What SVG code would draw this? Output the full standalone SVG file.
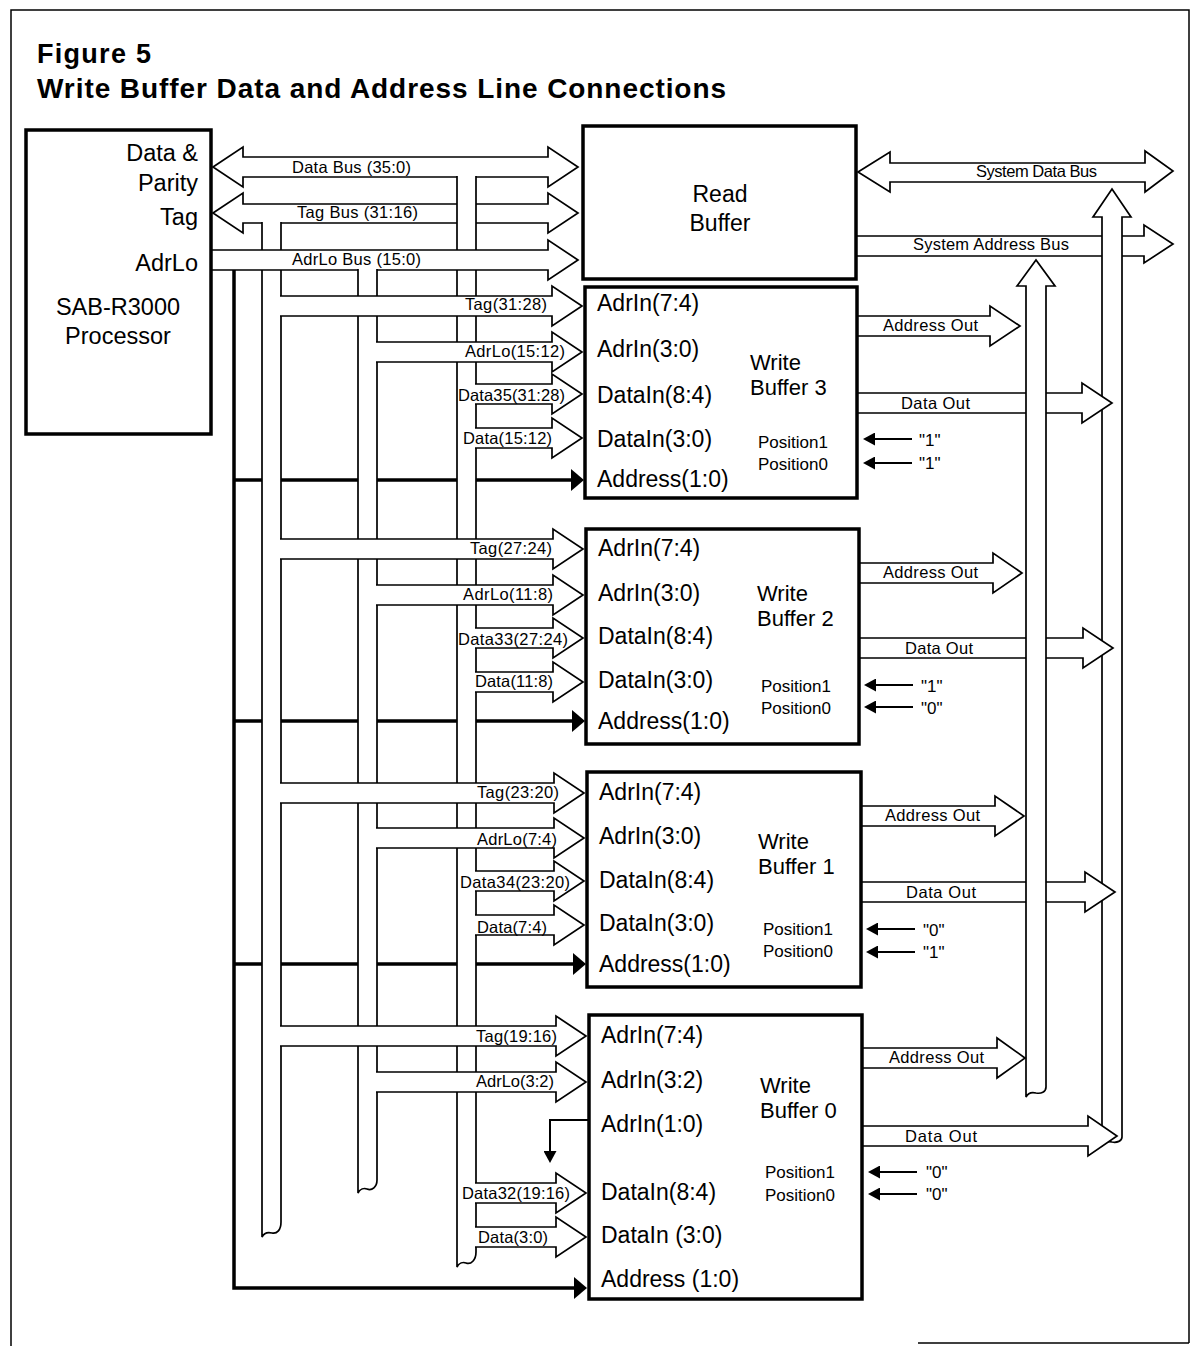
<svg xmlns="http://www.w3.org/2000/svg" width="1191" height="1346" viewBox="0 0 1191 1346">
<style>
.o{fill:#fff;stroke:#000;stroke-width:1.7;stroke-linejoin:miter}
.box{fill:#fff;stroke:#000;stroke-width:3.5}
.thick{fill:none;stroke:#000;stroke-width:3.5}
.thin{fill:none;stroke:#000;stroke-width:2}
.fr{fill:none;stroke:#000;stroke-width:1.5}
text{font-family:"Liberation Sans",Arial,Helvetica,sans-serif;fill:#000}
.lbl{font-size:16.5px}
.bt{font-size:23px}
.wt{font-size:22px}
.pt{font-size:23.5px}
.pos{font-size:17px}
.ttl{font-weight:bold}
</style>
<defs>
<marker id="big" markerUnits="userSpaceOnUse" viewBox="0 0 14 24" markerWidth="14" markerHeight="24" refX="0" refY="12" orient="auto"><path d="M0,1 L13,12 L0,23 Z" fill="#000"/></marker>
<marker id="small" markerUnits="userSpaceOnUse" viewBox="0 0 12 13" markerWidth="12" markerHeight="13" refX="0" refY="6.5" orient="auto"><path d="M0,0 L12,6.5 L0,13 Z" fill="#000"/></marker>
</defs>
<rect width="1191" height="1346" fill="#fff"/>
<g id="frame">
<path class="fr" d="M11,1346 V10 H1189 V1343 M918,1343 H1189"/>
</g>
<g id="title">
<text class="ttl" x="37" y="63" font-size="27" textLength="114">Figure 5</text>
<text class="ttl" x="37" y="98" font-size="28" textLength="689">Write Buffer Data and Address Line Connections</text>
</g>
<g id="connectors">
<path class="thick" d="M234,269 V1288 H574" marker-end="url(#big)"/>
<path class="thick" d="M234,480 H571" marker-end="url(#big)"/>
<path class="thick" d="M234,721 H572" marker-end="url(#big)"/>
<path class="thick" d="M234,964 H573" marker-end="url(#big)"/>
<path class="o" d="M213,167 L243,147 V157 H548 V147 L578,167 L548,187 V177 H243 V187 Z"/>
<path class="o" d="M213,213 L243,193 V204 H548 V193 L578,213 L548,233 V223 H243 V233 Z"/>
<path class="o" d="M262,222 V1237 C264,1233 268,1232 272,1233 C277,1234 281,1230 281,1222 V222"/>
<path class="o" d="M457,176 V1267 C459,1263 463,1262 466,1263 C471,1265 476,1260 476,1252 V176"/>
<path class="o" d="M211,250 H548 V240 L578,260 L548,280 V270 H211"/>
<path class="o" d="M358,269 V1193 C360,1189 364,1188 367,1189 C372,1191 377,1187 377,1180 V269"/>
<text class="lbl" x="292" y="173" textLength="119">Data Bus (35:0)</text>
<text class="lbl" x="297" y="218" textLength="121">Tag Bus (31:16)</text>
<text class="lbl" x="292" y="265" textLength="129">AdrLo Bus (15:0)</text>
<path class="o" d="M280,296 H552 V286 L582,306 L552,326 V316 H280"/>
<path class="o" d="M376,342 H552 V332 L582,352 L552,372 V362 H376"/>
<path class="o" d="M475,384 H552 V374 L582,394 L552,414 V404 H475"/>
<path class="o" d="M475,428 H552 V418 L582,438 L552,458 V448 H475"/>
<text class="lbl" x="465" y="310" textLength="82">Tag(31:28)</text>
<text class="lbl" x="465" y="357" textLength="100">AdrLo(15:12)</text>
<text class="lbl" x="458" y="401" textLength="107">Data35(31:28)</text>
<text class="lbl" x="463" y="444" textLength="89">Data(15:12)</text>
<path class="o" d="M280,539 H553 V529 L583,549 L553,569 V559 H280"/>
<path class="o" d="M376,585 H553 V575 L583,595 L553,615 V605 H376"/>
<path class="o" d="M475,628 H553 V618 L583,638 L553,658 V648 H475"/>
<path class="o" d="M475,672 H553 V662 L583,682 L553,702 V692 H475"/>
<text class="lbl" x="470" y="554" textLength="82">Tag(27:24)</text>
<text class="lbl" x="463" y="600" textLength="90">AdrLo(11:8)</text>
<text class="lbl" x="458" y="645" textLength="110">Data33(27:24)</text>
<text class="lbl" x="475" y="687" textLength="78">Data(11:8)</text>
<path class="o" d="M280,783 H554 V773 L584,793 L554,813 V803 H280"/>
<path class="o" d="M376,828 H554 V818 L584,838 L554,858 V848 H376"/>
<path class="o" d="M475,871 H554 V861 L584,881 L554,901 V891 H475"/>
<path class="o" d="M475,915 H554 V905 L584,925 L554,945 V935 H475"/>
<text class="lbl" x="477" y="798" textLength="82">Tag(23:20)</text>
<text class="lbl" x="477" y="845" textLength="80">AdrLo(7:4)</text>
<text class="lbl" x="460" y="888" textLength="110">Data34(23:20)</text>
<text class="lbl" x="477" y="933" textLength="70">Data(7:4)</text>
<path class="o" d="M280,1026 H556 V1016 L586,1036 L556,1056 V1046 H280"/>
<path class="o" d="M376,1072 H556 V1062 L586,1082 L556,1102 V1092 H376"/>
<path class="o" d="M475,1183 H556 V1173 L586,1193 L556,1213 V1203 H475"/>
<path class="o" d="M475,1227 H556 V1217 L586,1237 L556,1257 V1247 H475"/>
<text class="lbl" x="476" y="1042" textLength="81">Tag(19:16)</text>
<text class="lbl" x="476" y="1087" textLength="78">AdrLo(3:2)</text>
<text class="lbl" x="462" y="1199" textLength="108">Data32(19:16)</text>
<text class="lbl" x="478" y="1243" textLength="70">Data(3:0)</text>
<path class="thin" d="M589,1120 H550 V1151" marker-end="url(#small)"/>
<path class="o" d="M858,172 L890,152 V163 H1145 V151 L1173,171 L1145,192 V182 H890 V192 Z"/>
<path class="o" d="M856,236 H1144 V225 L1173,244 L1144,263 V256 H856"/>
<path class="o" d="M1102,1146 V217 H1093 L1112,189 L1131,217 H1122 V1137 C1122,1141 1117,1143 1112,1142 C1108,1141 1104,1142 1102,1146 Z"/>
<text class="lbl" x="976" y="177" textLength="121">System Data Bus</text>
<text class="lbl" x="913" y="250" textLength="156">System Address Bus</text>
<path class="o" d="M857,393 H1082 V383 L1112,403 L1082,423 V413 H857"/>
<path class="o" d="M859,638 H1083 V628 L1113,648 L1083,668 V658 H859"/>
<path class="o" d="M861,882 H1085 V872 L1115,892 L1085,912 V902 H861"/>
<path class="o" d="M862,1126 H1088 V1116 L1117,1136 L1088,1156 V1146 H862"/>
<path class="o" d="M1026,1097 V286 H1017 L1036,260 L1055,286 H1046 V1087 C1046,1092 1041,1094 1036,1093 C1032,1092 1028,1093 1026,1097 Z"/>
<text class="lbl" x="901" y="409" textLength="69">Data Out</text>
<text class="lbl" x="905" y="654" textLength="68">Data Out</text>
<text class="lbl" x="906" y="898" textLength="70">Data Out</text>
<text class="lbl" x="905" y="1142" textLength="72">Data Out</text>
<path class="o" d="M857,316 H990 V306 L1020,326 L990,346 V336 H857"/>
<path class="o" d="M859,563 H993 V553 L1022,573 L993,593 V583 H859"/>
<path class="o" d="M861,806 H995 V796 L1024,816 L995,836 V826 H861"/>
<path class="o" d="M862,1048 H997 V1038 L1025,1058 L997,1078 V1068 H862"/>
<text class="lbl" x="883" y="331" textLength="95">Address Out</text>
<text class="lbl" x="883" y="578" textLength="95">Address Out</text>
<text class="lbl" x="885" y="821" textLength="95">Address Out</text>
<text class="lbl" x="889" y="1063" textLength="95">Address Out</text>
<path class="thin" d="M912,439 H875" marker-end="url(#small)"/>
<path class="thin" d="M912,463 H875" marker-end="url(#small)"/>
<path class="thin" d="M913,685 H876" marker-end="url(#small)"/>
<path class="thin" d="M913,707 H876" marker-end="url(#small)"/>
<path class="thin" d="M915,929 H878" marker-end="url(#small)"/>
<path class="thin" d="M915,952 H878" marker-end="url(#small)"/>
<path class="thin" d="M917,1172 H880" marker-end="url(#small)"/>
<path class="thin" d="M917,1194 H880" marker-end="url(#small)"/>
<text class="pos" x="919" y="446">"1"</text>
<text class="pos" x="919" y="469">"1"</text>
<text class="pos" x="921" y="692">"1"</text>
<text class="pos" x="921" y="714">"0"</text>
<text class="pos" x="923" y="936">"0"</text>
<text class="pos" x="923" y="958">"1"</text>
<text class="pos" x="926" y="1178">"0"</text>
<text class="pos" x="926" y="1200">"0"</text>
</g>
<g id="processor">
<rect class="box" x="26" y="130" width="185" height="304"/>
<text class="pt" x="198" y="161" text-anchor="end">Data &amp;</text>
<text class="pt" x="198" y="191" text-anchor="end">Parity</text>
<text class="pt" x="198" y="225" text-anchor="end">Tag</text>
<text class="pt" x="198" y="271" text-anchor="end">AdrLo</text>
<text class="pt" x="118" y="315" text-anchor="middle">SAB-R3000</text>
<text class="pt" x="118" y="344" text-anchor="middle">Processor</text>
</g>
<g id="read-buffer">
<rect class="box" x="583" y="126" width="273" height="153"/>
<text class="bt" x="720" y="202" text-anchor="middle">Read</text>
<text class="bt" x="720" y="231" text-anchor="middle">Buffer</text>
</g>
<g id="wb3">
<rect class="box" x="585" y="287" width="272" height="211"/>
<text class="bt" x="597" y="311">AdrIn(7:4)</text>
<text class="bt" x="597" y="357">AdrIn(3:0)</text>
<text class="bt" x="597" y="403">DataIn(8:4)</text>
<text class="bt" x="597" y="447">DataIn(3:0)</text>
<text class="bt" x="597" y="487">Address(1:0)</text>
<text class="wt" x="750" y="370">Write</text>
<text class="wt" x="750" y="395">Buffer 3</text>
<text class="pos" x="758" y="448">Position1</text>
<text class="pos" x="758" y="470">Position0</text>
</g>
<g id="wb2">
<rect class="box" x="586" y="529" width="273" height="215"/>
<text class="bt" x="598" y="556">AdrIn(7:4)</text>
<text class="bt" x="598" y="601">AdrIn(3:0)</text>
<text class="bt" x="598" y="644">DataIn(8:4)</text>
<text class="bt" x="598" y="688">DataIn(3:0)</text>
<text class="bt" x="598" y="729">Address(1:0)</text>
<text class="wt" x="757" y="601">Write</text>
<text class="wt" x="757" y="626">Buffer 2</text>
<text class="pos" x="761" y="692">Position1</text>
<text class="pos" x="761" y="714">Position0</text>
</g>
<g id="wb1">
<rect class="box" x="587" y="772" width="274" height="215"/>
<text class="bt" x="599" y="800">AdrIn(7:4)</text>
<text class="bt" x="599" y="844">AdrIn(3:0)</text>
<text class="bt" x="599" y="888">DataIn(8:4)</text>
<text class="bt" x="599" y="931">DataIn(3:0)</text>
<text class="bt" x="599" y="972">Address(1:0)</text>
<text class="wt" x="758" y="849">Write</text>
<text class="wt" x="758" y="874">Buffer 1</text>
<text class="pos" x="763" y="935">Position1</text>
<text class="pos" x="763" y="957">Position0</text>
</g>
<g id="wb0">
<rect class="box" x="589" y="1015" width="273" height="284"/>
<text class="bt" x="601" y="1043">AdrIn(7:4)</text>
<text class="bt" x="601" y="1088">AdrIn(3:2)</text>
<text class="bt" x="601" y="1132">AdrIn(1:0)</text>
<text class="bt" x="601" y="1200">DataIn(8:4)</text>
<text class="bt" x="601" y="1243">DataIn (3:0)</text>
<text class="bt" x="601" y="1287">Address (1:0)</text>
<text class="wt" x="760" y="1093">Write</text>
<text class="wt" x="760" y="1118">Buffer 0</text>
<text class="pos" x="765" y="1178">Position1</text>
<text class="pos" x="765" y="1201">Position0</text>
</g>
</svg>
